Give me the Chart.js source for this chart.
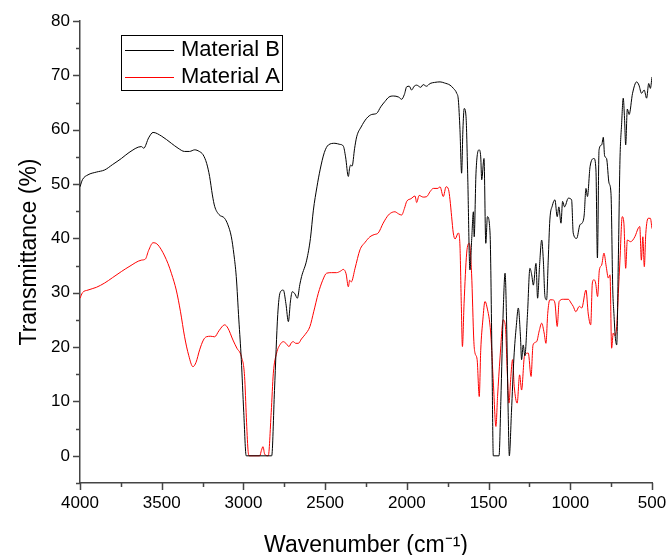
<!DOCTYPE html>
<html>
<head>
<meta charset="utf-8">
<script src="https://cdn.jsdelivr.net/npm/chart.js@4"></script>
<style>
  html, body { margin: 0; padding: 0; background: #fff; }
  #wrap { width: 670px; height: 555px; position: relative; }
</style>
</head>
<body>
<div id="wrap"><canvas id="ftir"></canvas></div>
<script>
// Material B (black) - wavenumber / transmittance
const wnB = [4000, 3985, 3951, 3900, 3849, 3800, 3747, 3700, 3625, 3610, 3580, 3553, 3500, 3441, 3400, 3360, 3330, 3298, 3270, 3247,
  3225, 3207, 3190, 3176, 3150, 3115, 3095, 3074, 3058, 3044, 3028, 3013, 2998, 2983, 2827, 2810, 2790, 2776, 2756, 2740,
  2725, 2712, 2701, 2685, 2670, 2655, 2644, 2613, 2590, 2572, 2550, 2531, 2505, 2480, 2440, 2410, 2389, 2375, 2358, 2350,
  2344, 2335, 2320, 2307, 2280, 2246, 2215, 2185, 2160, 2134, 2110, 2083, 2050, 2032, 2015, 2001, 1985, 1971, 1955, 1940,
  1915, 1900, 1880, 1858, 1830, 1797, 1770, 1736, 1715, 1695, 1685, 1675, 1665, 1657, 1649, 1638, 1628, 1614, 1603, 1593,
  1588, 1577, 1558, 1548, 1542, 1528, 1517, 1507, 1491, 1480, 1471, 1436, 1425, 1410, 1399, 1390, 1380, 1373, 1360, 1345,
  1330, 1318, 1305, 1298, 1288, 1278, 1262, 1247, 1236, 1226, 1210, 1200, 1188, 1175, 1165, 1155, 1145, 1135, 1125, 1110,
  1094, 1080, 1070, 1057, 1047, 1035, 1012, 992, 982, 961, 941, 928, 915, 904, 895, 879, 855, 843, 834, 824,
  808, 798, 790, 778, 763, 751, 740, 733, 725, 716, 706, 696, 686, 676, 668, 661, 651, 640, 619, 594,
  580, 564, 548, 533, 520, 510, 500];
const tB = [49.5, 50.8, 51.7, 52.2, 52.6, 53.6, 54.7, 55.8, 56.9, 56.6, 58.5, 59.5, 58.8, 57.5, 56.6, 56.0, 56.0, 56.3, 56.0, 55.4,
  53.8, 51.4, 48.0, 45.9, 44.4, 43.7, 42.5, 40.3, 37.0, 33.0, 25.0, 17.7, 8.0, 0, 0, 12, 26, 30.0, 30.5, 28,
  24.7, 28.5, 30.2, 29.8, 29.0, 31.5, 33.0, 36.0, 40, 45.2, 49.5, 52.6, 55.8, 57.2, 57.5, 57.3, 57.0, 55, 51.4, 53,
  53.5, 53.3, 56.5, 58.7, 60.5, 62.1, 62.8, 63.0, 64.2, 65.2, 66.0, 66.2, 66.0, 65.6, 66.5, 67.9, 68.0, 67.3, 68.0, 68.2,
  67.8, 68.3, 68.0, 68.5, 68.7, 68.8, 68.6, 68.2, 67.6, 66.7, 65.5, 60, 52.0, 60, 63.9, 62.4, 52, 34.2, 40, 44.9,
  40.3, 52.0, 56.3, 55.0, 50.8, 54.7, 39.1, 44.0, 41.0, 20, 0, 0, 10, 27, 33.6, 25, 8, 0, 8, 18,
  24, 27.2, 22, 17.7, 20.4, 18.4, 26, 34.5, 33.3, 31.4, 35.4, 29.0, 35, 39.7, 36, 29.3, 28.7, 36, 43.4, 46.0,
  47.1, 44.0, 45.8, 42.8, 46.8, 45.8, 47.4, 47.1, 41.0, 40.0, 42.5, 42.8, 44.3, 49.2, 47.7, 53.2, 54.7, 52.6, 36.4, 56.3,
  57.2, 58.6, 55.2, 54.7, 50.2, 48.3, 30.5, 26.2, 22, 20.4, 36.0, 54.4, 61, 65.8, 62, 57.2, 63.8, 62.8, 66.7, 68.8,
  68.2, 66.7, 67.3, 65.8, 68.5, 67.6, 69.7];

// Material A (red)
const wnA = [4000, 3985, 3951, 3900, 3849, 3800, 3747, 3700, 3625, 3600, 3580, 3553, 3530, 3502, 3462, 3440, 3411, 3385, 3360, 3335,
  3309, 3290, 3268, 3245, 3227, 3200, 3176, 3150, 3115, 3095, 3064, 3040, 3013, 2993, 2982, 2972, 2965, 2900, 2890, 2880,
  2870, 2848, 2830, 2817, 2797, 2775, 2756, 2740, 2721, 2707, 2695, 2680, 2664, 2645, 2623, 2593, 2570, 2542, 2515, 2491,
  2460, 2430, 2405, 2389, 2372, 2358, 2350, 2340, 2317, 2287, 2255, 2226, 2200, 2175, 2145, 2113, 2090, 2073, 2050, 2032,
  2015, 2001, 1975, 1950, 1940, 1925, 1900, 1878, 1858, 1838, 1810, 1797, 1777, 1760, 1745, 1736, 1726, 1716, 1705, 1685,
  1675, 1667, 1660, 1650, 1634, 1618, 1604, 1590, 1583, 1570, 1557, 1548, 1535, 1522, 1510, 1487, 1470, 1455, 1445, 1430,
  1410, 1397, 1385, 1375, 1365, 1353, 1343, 1325, 1310, 1298, 1280, 1257, 1240, 1228, 1206, 1190, 1175, 1160, 1149, 1138,
  1125, 1108, 1094, 1080, 1068, 1043, 1012, 995, 982, 966, 945, 930, 904, 890, 875, 865, 855, 845, 833, 822,
  808, 794, 780, 767, 757, 747, 737, 727, 716, 706, 696, 682, 672, 661, 651, 631, 605, 584, 575, 565,
  556, 547, 538, 523, 510, 500];
const tA = [29.0, 30.0, 30.5, 31.0, 31.8, 32.8, 33.9, 34.8, 36.0, 36.2, 37.8, 39.2, 39.0, 37.9, 35.4, 33.5, 30.5, 26.5, 21.9, 18.5,
  16.4, 17.2, 19.5, 21.3, 21.9, 22.0, 21.9, 23.0, 24.1, 23.5, 21.3, 19.8, 18.3, 14.6, 7, 1.1, 0, 0, 1.0, 1.7,
  0.3, 0, 8, 15.2, 18.9, 20.5, 21.0, 20.7, 20.1, 20.8, 21.0, 20.7, 20.7, 21.5, 22.3, 23.8, 26.5, 29.9, 32.3, 33.6,
  33.7, 33.7, 34.0, 34.3, 33.5, 31.1, 32.3, 32.0, 34.5, 37.9, 39.3, 40.3, 40.7, 41.0, 42.8, 44.3, 44.8, 44.9, 44.5, 44.3,
  45.5, 46.8, 47.3, 47.8, 46.6, 47.9, 47.6, 47.7, 48.6, 49.2, 49.2, 49.5, 47.7, 49.5, 49.0, 47.1, 44, 41.0, 39.9, 41.0,
  38.6, 28, 20.1, 28, 37.3, 39.1, 33.6, 21, 18.9, 17.7, 10.9, 19.4, 25, 28.4, 27.4, 22.6, 13, 5.4, 10.9, 18,
  25.0, 23.8, 15, 9.7, 14.0, 17.7, 12.8, 9.7, 14.9, 12.1, 18.4, 18.9, 14.6, 20.4, 21.0, 23.0, 24.4, 22.6, 20.7, 26.2,
  28.7, 28.7, 28.1, 23.8, 28.4, 28.8, 28.8, 28.1, 27.5, 26.5, 27.5, 27.2, 30.5, 26.1, 24.1, 31.8, 32.4, 31.8, 29.3, 34.2,
  35.1, 37.3, 34.8, 32.7, 33.3, 19.8, 22.6, 22.1, 23.8, 29.9, 36.0, 44.0, 42.8, 34.5, 39.7, 39.4, 40.3, 41.9, 42.2, 36.0,
  40.3, 34.8, 40.9, 43.7, 43.7, 41.8];

const xTickValues = [4000, 3500, 3000, 2500, 2000, 1500, 1000, 500];
const yTickValues = [0, 10, 20, 30, 40, 50, 60, 70, 80];

const FONT = '"Liberation Sans", Arial, sans-serif';

function toPoints(xs, ys) {
  return xs.map((x, i) => ({ x: x, y: ys[i] }));
}

// major + minor tick marks drawn outside the axes
const tickMarks = {
  id: 'tickMarks',
  afterDraw(chart) {
    const ctx = chart.ctx;
    const x = chart.scales.x;
    const y = chart.scales.y;
    const area = chart.chartArea;
    ctx.save();
    ctx.strokeStyle = '#444';
    ctx.lineWidth = 1.5;
    ctx.beginPath();
    for (let v = -5; v <= 80; v += 5) {
      const py = Math.round(y.getPixelForValue(v)) + 0.5;
      const len = v % 10 === 0 ? 7 : 4;
      ctx.moveTo(area.left, py);
      ctx.lineTo(area.left - len, py);
    }
    for (let v = 500; v <= 4000; v += 250) {
      const px = Math.round(x.getPixelForValue(v)) + 0.5;
      const len = v % 500 === 0 ? 7 : 4;
      ctx.moveTo(px, area.bottom);
      ctx.lineTo(px, area.bottom + len);
    }
    ctx.stroke();
    ctx.restore();
  }
};

// boxed legend inside the plot, top left
const boxLegend = {
  id: 'boxLegend',
  afterDraw(chart) {
    const ctx = chart.ctx;
    const left = 121, top = 35, w = 161, h = 55;
    ctx.save();
    ctx.strokeStyle = '#000';
    ctx.lineWidth = 1;
    ctx.strokeRect(left + 0.5, top + 0.5, w, h);
    ctx.font = '22px ' + FONT;
    ctx.textBaseline = 'middle';
    chart.data.datasets.forEach((ds, i) => {
      const cy = top + 15 + i * 27;
      ctx.strokeStyle = ds.borderColor;
      ctx.lineWidth = 1;
      ctx.beginPath();
      ctx.moveTo(left + 4, cy + 0.5);
      ctx.lineTo(left + 53, cy + 0.5);
      ctx.stroke();
      ctx.fillStyle = '#000';
      ctx.fillText(ds.label, left + 60, cy);
    });
    ctx.restore();
  }
};

new Chart(document.getElementById('ftir'), {
  type: 'line',
  data: {
    datasets: [
      {
        label: 'Material B',
        data: toPoints(wnB, tB),
        borderColor: '#000000',
        borderWidth: 1,
        pointRadius: 0,
        cubicInterpolationMode: 'monotone',
      },
      {
        label: 'Material A',
        data: toPoints(wnA, tA),
        borderColor: '#ff0000',
        borderWidth: 1,
        pointRadius: 0,
        cubicInterpolationMode: 'monotone',
      },
    ],
  },
  options: {
    responsive: true,
    maintainAspectRatio: false,
    animation: false,
    layout: { padding: { top: 21, right: 18, left: 0, bottom: 0 } },
    plugins: {
      legend: { display: false },
      tooltip: { enabled: false },
    },
    scales: {
      x: {
        type: 'linear',
        reverse: true,
        min: 500,
        max: 4000,
        afterBuildTicks: (s) => { s.ticks = xTickValues.map((v) => ({ value: v })); },
        afterFit: (s) => { s.height = 72; },
        grid: { display: false, drawTicks: true, tickLength: 7 },
        border: { display: true, color: '#444', width: 1.5 },
        ticks: {
          color: '#000',
          font: { family: FONT, size: 17 },
          padding: 3,
          maxRotation: 0,
          callback: (v) => String(v),
        },
        title: {
          display: true,
          text: 'Wavenumber (cm\u207B\u00B9)',
          color: '#000',
          font: { family: FONT, size: 23 },
          padding: { top: 0, bottom: -4 },
        },
      },
      y: {
        min: -5,
        max: 80,
        afterBuildTicks: (s) => { s.ticks = yTickValues.map((v) => ({ value: v })); },
        afterFit: (s) => { s.width = 80; },
        grid: { display: false, drawTicks: true, tickLength: 7 },
        border: { display: true, color: '#444', width: 1.5 },
        ticks: { color: '#000', font: { family: FONT, size: 17 }, padding: 3 },
        title: {
          display: true,
          text: 'Transmittance (%)',
          color: '#000',
          font: { family: FONT, size: 23 },
          padding: { top: 16, bottom: 0 },
        },
      },
    },
  },
  plugins: [tickMarks, boxLegend],
});
</script>
</body>
</html>
